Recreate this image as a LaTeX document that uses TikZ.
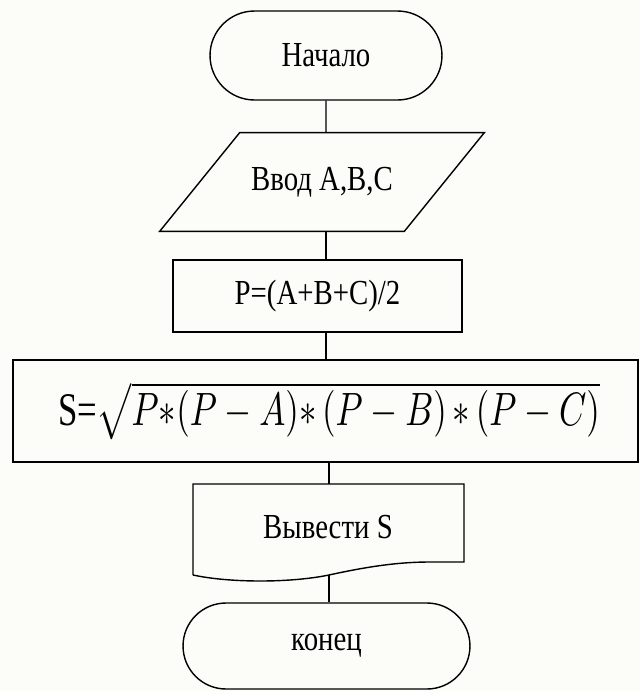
\documentclass[tikz,border=0pt]{standalone}
\usepackage{fontspec}
\setmainfont[FakeStretch=0.82]{Liberation Serif}
\newfontfamily\formfont{Liberation Serif}
\usetikzlibrary{shapes.misc,positioning}
\definecolor{paper}{RGB}{252,252,248}
\tikzset{
  ln/.style={line width=0.8pt},
  term/.style={rounded rectangle, draw, ln, inner sep=0pt,
               font=\fontsize{20}{24}\selectfont},
  proc/.style={rectangle, draw, ln, inner sep=0pt,
               font=\fontsize{20}{24}\selectfont},
  txt/.style={inner sep=0pt, font=\fontsize{20}{24}\selectfont}
}

\begin{document}
\begin{tikzpicture}[x=0.02cm,y=-0.02cm]
\fill[paper] (0,0) rectangle (640,691);
\node[term, minimum width=4.64cm, minimum height=1.78cm] (beg) at (326,55.5) {Начало};
\node[txt, minimum width=6.48cm, minimum height=1.96cm] (inp) at (322,182) {Ввод А,В,С};
\draw[ln] ([xshift=1.6cm]inp.north west) -- (inp.north east)
  -- ([xshift=-1.6cm]inp.south east) -- (inp.south west) -- cycle;
\node[proc, minimum width=5.78cm, minimum height=1.44cm] (calc) at (317.5,296) {P=(A+B+C)/2};
\node[proc, minimum width=12.5cm, minimum height=2.04cm] (area) at (325.5,411) {};
\node[inner sep=0pt] (form) at (329,411)
  {\resizebox*{10.84cm}{1.16cm}{\formfont S=$\sqrt{\mathstrut P{*}(P-A){*}\,(P-B)\,{*}\,(P-C)}$}};
\node[txt] (out) at (328,527) {Вывести S};
\coordinate (outt) at (329,484);
\coordinate (outb) at (329,575);
\draw[ln] (193,575) -- (193,484) -- (464,484) -- (464,562) -- (430,562)
  .. controls (400,562) and (370,566) .. (outb)
  .. controls (290,583) and (230,583) .. (193,575);
\node[term, minimum width=5.74cm, minimum height=1.72cm] (fin) at (326.5,646) {конец};
\draw[ln] (beg) -- (beg.south |- inp.north);
\draw[ln] (inp.south -| beg.south) -- (calc.north -| beg.south);
\draw[ln] (calc.south -| beg.south) -- (area.north -| beg.south);
\draw[ln] (area.south -| outt) -- (outt);
\draw[ln] (outb) -- (fin.north -| outb);
\end{tikzpicture}
\end{document}
